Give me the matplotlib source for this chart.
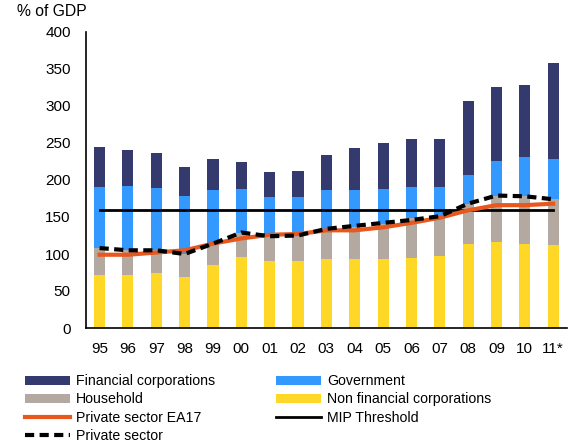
import matplotlib
matplotlib.use("Agg")
import matplotlib.pyplot as plt
import numpy as np

plt.rcParams['font.family'] = ['Liberation Sans', 'DejaVu Sans']

years = ["95", "96", "97", "98", "99", "00", "01", "02", "03", "04", "05", "06", "07", "08", "09", "10", "11*"]
nfc = [72, 72, 75, 69, 85, 96, 91, 90, 93, 93, 93, 95, 97, 114, 116, 114, 112]
household = [36, 34, 30, 31, 29, 32, 33, 35, 41, 43, 48, 53, 55, 54, 62, 64, 62]
government = [83, 86, 84, 79, 72, 60, 53, 52, 52, 51, 47, 43, 38, 39, 48, 53, 54]
financial = [53, 48, 47, 39, 43, 36, 34, 35, 48, 56, 62, 65, 66, 100, 99, 98, 130]
private_ea17 = [99, 99, 102, 105, 114, 121, 126, 127, 132, 132, 136, 142, 149, 159, 166, 166, 168]
private_sector = [108, 105, 105, 100, 114, 129, 124, 125, 134, 138, 142, 146, 151, 168, 179, 178, 174]
mip_threshold = 160

c_fin = "#343A6E"
c_gov = "#3399FF"
c_hh = "#B3A9A0"
c_nfc = "#FFD726"
c_ea = "#E8571E"

fig = plt.figure(figsize=(5.88, 4.43), dpi=100)
ax = fig.add_axes([86/588, 1-328/443, (567-86)/588, (328-32)/443])

x = np.arange(len(years))
w = 0.39
nfc_a = np.array(nfc)
hh_a = np.array(household)
gov_a = np.array(government)
fin_a = np.array(financial)
ax.bar(x, nfc_a, w, color=c_nfc, label="Non financial corporations", zorder=2)
ax.bar(x, hh_a, w, bottom=nfc_a, color=c_hh, label="Household", zorder=2)
ax.bar(x, gov_a, w, bottom=nfc_a+hh_a, color=c_gov, label="Government", zorder=2)
ax.bar(x, fin_a, w, bottom=nfc_a+hh_a+gov_a, color=c_fin, label="Financial corporations", zorder=2)

ax.plot(x, [mip_threshold]*len(x), color="black", lw=2, label="MIP Threshold", zorder=3)
ax.plot(x, private_ea17, color=c_ea, lw=3, label="Private sector EA17", zorder=4)
ax.plot(x, private_sector, color="black", lw=3, ls=(0, (2.2, 1.3)), label="Private sector", zorder=5)

ax.set_xlim(-0.48, 16.49)
ax.set_ylim(0, 400)
ax.set_yticks(range(0, 401, 50))
ax.set_xticks(x)
ax.set_xticklabels(years)
ax.tick_params(axis='both', length=0, labelsize=11)
ax.tick_params(axis='y', pad=11)
ax.tick_params(axis='x', pad=10)
for s in ["top", "right"]:
    ax.spines[s].set_visible(False)
ax.spines["left"].set_linewidth(1.2)
ax.spines["bottom"].set_linewidth(1.2)

fig.text(17/588, 1-12/443, "% of GDP", fontsize=11.3, va="center", ha="left")

h, l = ax.get_legend_handles_labels()
d = dict(zip(l, h))
order = ["Financial corporations", "Household", "Private sector EA17", "Private sector",
         "Government", "Non financial corporations", "MIP Threshold"]
leg = fig.legend([d[k] for k in order], order, ncol=2, loc="upper left",
                 bbox_to_anchor=(25/588, 1-374/443), frameon=False, fontsize=10.2,
                 handlelength=3.2, handleheight=0.6, labelspacing=0.3, columnspacing=4.3,
                 handletextpad=0.4, borderaxespad=0, borderpad=0)

fig.savefig("out.png", dpi=100)
